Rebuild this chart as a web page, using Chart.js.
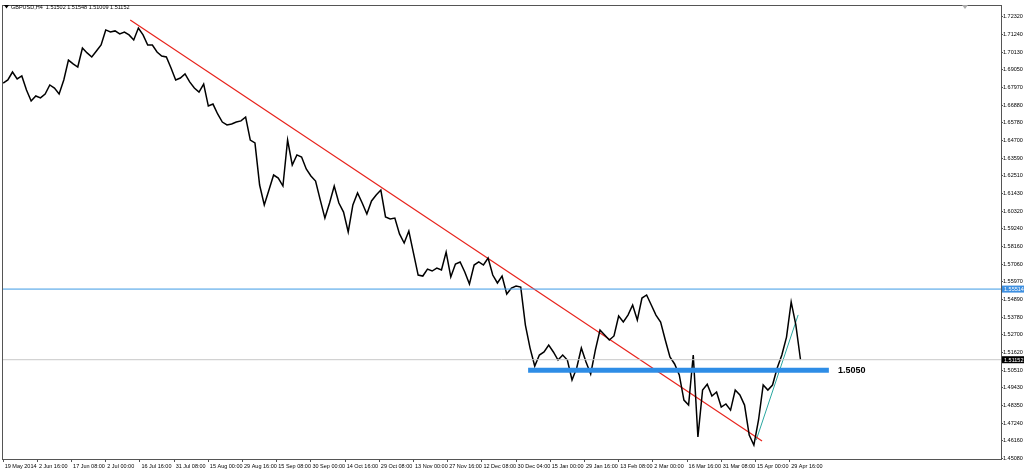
<!DOCTYPE html>
<html lang="en">
<head>
<meta charset="UTF-8">
<title>GBPUSD,H4</title>
<script src="https://cdn.jsdelivr.net/npm/chart.js"></script>
<style>
  html, body { margin: 0; padding: 0; background: #fff; }
  #box { width: 1024px; height: 471px; position: relative; }
</style>
</head>
<body>
<div id="box"><canvas id="grafico"></canvas></div>
<script>
// H4 bars, one sampled close every 12 bars
var BAR_STEP = 12;
var closes = [
  1.6824, 1.6843, 1.6892, 1.6849, 1.6868, 1.6781, 1.6713, 1.6744, 1.6732, 1.6756,
  1.6812, 1.6793, 1.6756, 1.6843, 1.6966, 1.6942, 1.6923, 1.7040, 1.7010, 1.6985,
  1.7022, 1.7059, 1.7152, 1.7139, 1.7146, 1.7127, 1.7139, 1.7121, 1.7090, 1.7164,
  1.7121, 1.7059, 1.7059, 1.7016, 1.6991, 1.6985, 1.6917, 1.6843, 1.6855, 1.6880,
  1.6831, 1.6793, 1.6768, 1.6818, 1.6682, 1.6694, 1.6633, 1.6583, 1.6565, 1.6571,
  1.6583, 1.6590, 1.6614, 1.6472, 1.6454, 1.6194, 1.6071, 1.6163, 1.6256, 1.6237,
  1.6188, 1.6472, 1.6318, 1.6380, 1.6367, 1.6293, 1.6250, 1.6219, 1.6102, 1.5990,
  1.6083, 1.6188, 1.6083, 1.6027, 1.5904, 1.6071, 1.6145, 1.6083, 1.6015, 1.6096,
  1.6132, 1.6163, 1.5997, 1.5984, 1.5990, 1.5892, 1.5836, 1.5910, 1.5774, 1.5638,
  1.5632, 1.5675, 1.5663, 1.5681, 1.5669, 1.5780, 1.5626, 1.5706, 1.5719, 1.5657,
  1.5583, 1.5700, 1.5719, 1.5700, 1.5743, 1.5638, 1.5589, 1.5632, 1.5521, 1.5558,
  1.5570, 1.5564, 1.5329, 1.5187, 1.5076, 1.5144, 1.5163, 1.5206, 1.5163, 1.5113,
  1.5144, 1.5113, 1.4990, 1.5064, 1.5187, 1.5101, 1.5027, 1.5175, 1.5299, 1.5268,
  1.5237, 1.5262, 1.5385, 1.5348, 1.5391, 1.5453, 1.5360, 1.5496, 1.5515, 1.5453,
  1.5391, 1.5348, 1.5237, 1.5132, 1.5089, 1.5021, 1.4866, 1.4835, 1.5144, 1.4638,
  1.4928, 1.4964, 1.4891, 1.4916, 1.4823, 1.4842, 1.4804, 1.4928, 1.4897, 1.4835,
  1.4650, 1.4588, 1.4743, 1.4959, 1.4928, 1.4959, 1.5064, 1.5144, 1.5255, 1.5472,
  1.5330, 1.5115
];

var dateLabels = [
  "19 May 2014", "2 Jun 16:00", "17 Jun 08:00", "2 Jul 00:00", "16 Jul 16:00",
  "31 Jul 08:00", "15 Aug 00:00", "29 Aug 16:00", "15 Sep 08:00", "30 Sep 00:00",
  "14 Oct 16:00", "29 Oct 08:00", "13 Nov 00:00", "27 Nov 16:00", "12 Dec 08:00",
  "30 Dec 04:00", "15 Jan 00:00", "29 Jan 16:00", "13 Feb 08:00", "2 Mar 00:00",
  "16 Mar 16:00", "31 Mar 08:00", "15 Apr 00:00", "29 Apr 16:00"
];
var BARS_PER_LABEL = 88;

var priceTicks = [
  1.72320, 1.71240, 1.70130, 1.69050, 1.67970, 1.66880, 1.65780, 1.64700,
  1.63590, 1.62510, 1.61430, 1.60320, 1.59240, 1.58160, 1.57060, 1.55970,
  1.54890, 1.53780, 1.52700, 1.51620, 1.50510, 1.49430, 1.48350, 1.47240,
  1.46160, 1.45080
];

// trend lines (bar index, price)
var redBars = [327, 1953];
var redPrices = [1.7213, 1.4613];
var tealBars = [1938, 2046];
var tealPrices = [1.4619, 1.5392];

var resistencia = 1.55514;
var precoAtual = 1.51152;
var suporte = 1.5050;
var suporteBars = [1351, 2125];

var X_MIN = -3, X_MAX = 2568;

function pts(bars, prices) {
  return bars.map(function (b, i) { return { x: b, y: prices[i] }; });
}

var serie = closes.map(function (c, i) { return { x: i * BAR_STEP, y: c }; });

var mt4Overlay = {
  id: 'mt4Overlay',
  afterDraw: function (chart) {
    var ctx = chart.ctx;
    var a = chart.chartArea;
    var y = chart.scales.y;
    ctx.save();
    // frame
    ctx.strokeStyle = '#555';
    ctx.lineWidth = 1;
    ctx.strokeRect(a.left + 0.5, a.top + 0.5, a.right - a.left, a.bottom - a.top);

    // header
    ctx.fillStyle = '#000';
    ctx.beginPath();
    ctx.moveTo(4, 5); ctx.lineTo(9, 5); ctx.lineTo(6.5, 8.5); ctx.closePath();
    ctx.fill();
    ctx.font = '5.5px "Liberation Sans"';
    ctx.textBaseline = 'middle';
    ctx.textAlign = 'left';
    ctx.fillText('GBPUSD,H4  1.51502 1.51548 1.51009 1.51152', 11, 7.5);

    // shift marker
    ctx.fillStyle = '#aaa';
    ctx.beginPath();
    ctx.moveTo(962, 5); ctx.lineTo(968, 5); ctx.lineTo(965, 9); ctx.closePath();
    ctx.fill();

    // support label
    var ps = y.getPixelForValue(suporte);
    ctx.fillStyle = '#000';
    ctx.font = 'bold 9px "Liberation Sans"';
    ctx.fillText('1.5050', 838, ps + 0.5);

    // price boxes on the axis
    var caixas = [[resistencia, '#3d8fe0'], [precoAtual, '#000']];
    ctx.font = '5.5px "Liberation Sans"';
    caixas.forEach(function (c) {
      var py = y.getPixelForValue(c[0]);
      ctx.fillStyle = c[1];
      ctx.fillRect(a.right + 1, py - 3.5, 22, 7);
      ctx.fillStyle = '#fff';
      ctx.fillText(c[0].toFixed(5), a.right + 3, py + 0.5);
    });
    ctx.restore();
  }
};

new Chart(document.getElementById('grafico'), {
  type: 'line',
  data: {
    datasets: [
      {
        label: 'Resistance',
        data: [{ x: X_MIN, y: resistencia }, { x: X_MAX, y: resistencia }],
        borderColor: '#3d9be6',
        borderWidth: 1
      },
      {
        label: 'Price line',
        data: [{ x: X_MIN, y: precoAtual }, { x: X_MAX, y: precoAtual }],
        borderColor: '#c8c8c8',
        borderWidth: 1
      },
      {
        label: 'Support',
        data: pts(suporteBars, [suporte, suporte]),
        borderColor: '#2e8de6',
        borderWidth: 5,
        borderCapStyle: 'butt'
      },
      {
        label: 'GBPUSD',
        data: serie,
        borderColor: '#000',
        borderWidth: 1.5
      },
      {
        label: 'Trend down',
        data: pts(redBars, redPrices),
        borderColor: '#e8231c',
        borderWidth: 1.2
      },
      {
        label: 'Trend up',
        data: pts(tealBars, tealPrices),
        borderColor: '#2aa7a0',
        borderWidth: 1
      }
    ]
  },
  options: {
    responsive: true,
    maintainAspectRatio: false,
    animation: false,
    layout: { padding: { left: 2, top: 5, right: 0, bottom: 0 } },
    elements: {
      point: { radius: 0, hoverRadius: 0 },
      line: { tension: 0 }
    },
    plugins: {
      legend: { display: false },
      tooltip: { enabled: false }
    },
    scales: {
      x: {
        type: 'linear',
        min: X_MIN,
        max: X_MAX,
        afterBuildTicks: function (scale) {
          scale.ticks = dateLabels.map(function (l, i) { return { value: i * BARS_PER_LABEL }; });
        },
        afterFit: function (scale) { scale.height = 12; },
        ticks: {
          autoSkip: false,
          maxRotation: 0,
          align: 'start',
          padding: 1,
          color: '#000',
          font: { family: 'Liberation Sans', size: 5.5 },
          callback: function (v) {
            var i = Math.round(v / BARS_PER_LABEL);
            return ' ' + (dateLabels[i] || '');
          }
        },
        grid: { drawOnChartArea: false, tickLength: 3, color: '#555' },
        border: { display: true, color: '#555' }
      },
      y: {
        position: 'right',
        min: 1.4502,
        max: 1.7306,
        afterBuildTicks: function (scale) {
          scale.ticks = priceTicks.map(function (v) { return { value: v }; });
        },
        afterFit: function (scale) { scale.width = 23; },
        ticks: {
          autoSkip: false,
          padding: 0,
          color: '#000',
          font: { family: 'Liberation Sans', size: 5.5 },
          callback: function (v) { return Number(v).toFixed(5); }
        },
        grid: { drawOnChartArea: false, tickLength: 2, color: '#555' },
        border: { display: true, color: '#555' }
      }
    }
  },
  plugins: [mt4Overlay]
});
</script>
</body>
</html>
